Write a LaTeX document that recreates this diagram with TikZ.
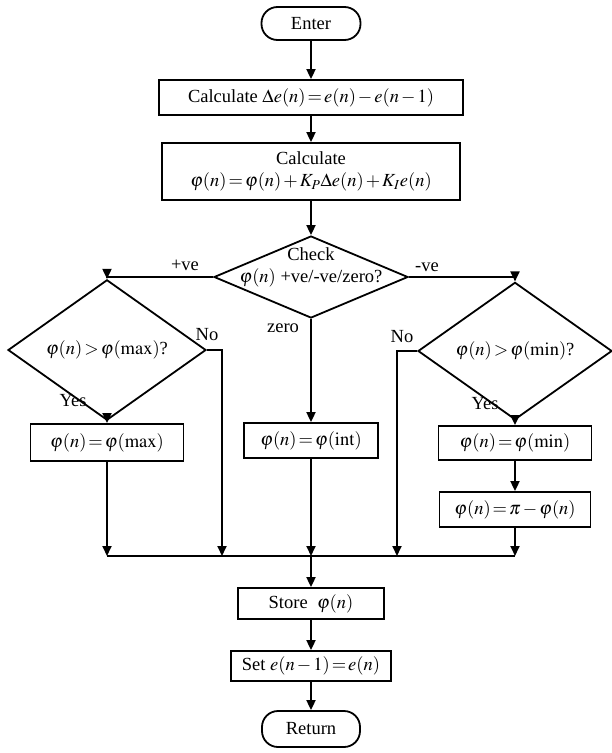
\documentclass[tikz,border=0pt]{standalone}
\usepackage{mathptmx}
\usepackage{fontspec}
\setmainfont{Liberation Serif}
\usetikzlibrary{arrows.meta,shapes.geometric}

\tikzset{
  base/.style={draw, line width=1.8pt, font=\fontsize{18.5}{22}\selectfont, inner sep=0pt, align=center},
  proc/.style={base, rectangle},
  term/.style={base, rectangle, rounded corners=16pt},
  decision/.style={base, diamond},
  lbl/.style={font=\fontsize{18.5}{22}\selectfont, inner sep=0pt},
  arr/.style={-{Triangle[length=10pt,width=9pt]}, line width=1.8pt},
  ln/.style={line width=1.8pt}
}
\medmuskip=2mu
\thickmuskip=2mu

\begin{document}
\begin{tikzpicture}[x=1pt,y=-1pt]
    \useasboundingbox (0,0) rectangle (611,753);

    % main column
    \node[term, minimum width=99pt, minimum height=33pt] (enter) at (311,23.5) {Enter};
    \node[proc, minimum width=304pt, minimum height=35pt] (dif) at (311,97.5) {Calculate $\Delta e(n)=e(n)-e(n-1)$};
    \node[proc, minimum width=298pt, minimum height=57pt] (phi) at (311,171.5) {Calculate\\ $\varphi(n)=\varphi(n)+K_P\Delta e(n)+K_I e(n)$};
    \node[decision, minimum width=194pt, minimum height=82pt,
      label={[lbl,align=center,yshift=10pt]center:{Check\\ $\varphi(n)$ +ve/-ve/zero?}}] (chk) at (311,277) {};

    % three branches
    \node[decision, minimum width=198pt, minimum height=86pt] (maxq) at (107,350) {$\varphi(n)>\varphi(\mathrm{max})$?};
    \node[proc, minimum width=153pt, minimum height=37pt] (maxbox) at (107,442.5) {$\varphi(n)=\varphi(\mathrm{max})$};
    \node[proc, minimum width=134pt, minimum height=35pt] (intbox) at (311,440.5) {$\varphi(n)=\varphi(\mathrm{int})$};
    \node[decision, minimum width=194pt, minimum height=86pt] (minq) at (515,351) {$\varphi(n)>\varphi(\mathrm{min})$?};
    \node[proc, minimum width=153pt, minimum height=34pt] (minbox) at (515,443) {$\varphi(n)=\varphi(\mathrm{min})$};
    \node[proc, minimum width=151pt, minimum height=35pt] (pibox) at (515,509.5) {$\varphi(n)=\pi-\varphi(n)$};

    % tail
    \node[proc, minimum width=146pt, minimum height=31pt] (store) at (311,603.5) {Store\ \ $\varphi(n)$};
    \node[proc, minimum width=160pt, minimum height=30pt] (setn) at (311,666) {Set $e(n-1)=e(n)$};
    \node[term, minimum width=98pt, minimum height=36pt] (ret) at (311,729) {Return};

    % branch labels
    \node[lbl] (pve) at (185,265) {+ve};
    \node[lbl] (nve) at (427,267) {-ve};
    \node[lbl] (zro) at (283,328) {zero};
    \node[lbl] (nol) at (207,335) {No};
    \node[lbl] (yesl) at (73,401) {Yes};
    \node[lbl] (nor) at (402,337) {No};
    \node[lbl] (yesr) at (485,404) {Yes};

    % merge line
    \coordinate (mL) at (107,556);
    \coordinate (mR) at (515,556);
    \coordinate (mC) at (311,556);
    \coordinate (noL) at (222,556);
    \coordinate (noR) at (397,556);

    \draw[arr] (enter) -- (dif);
    \draw[arr] (dif) -- (phi);
    \draw[arr] (phi) -- (chk);
    \draw[arr] (chk.west) -| (maxq.north);
    \draw[arr] (chk.east) -| (minq.north);
    \draw[arr] (chk.south) -- (intbox.north);
    \draw[arr] (maxq.south) -- (maxbox.north);
    \draw[arr] (minq.south) -- (minbox.north);
    \draw[arr] (minbox) -- (pibox);

    \draw[ln] (mL) -- (mR);
    \draw[arr] (maxbox) -- (mL);
    \draw[arr] (maxq.east) -| (noL);
    \draw[arr] (intbox) -- (mC);
    \draw[arr] (minq.west) -| (noR);
    \draw[arr] (pibox) -- (mR);
    \draw[arr] (mC) -- (store);
    \draw[arr] (store) -- (setn);
    \draw[arr] (setn) -- (ret);
  \end{tikzpicture}
\end{document}
